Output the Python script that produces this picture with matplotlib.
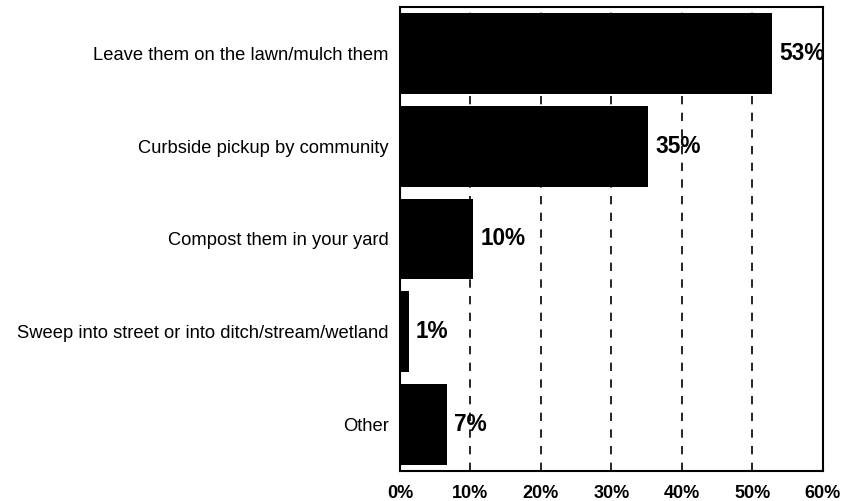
import matplotlib
matplotlib.use("Agg")
import matplotlib.pyplot as plt

# Daten
categories = [
    "Leave them on the lawn/mulch them",
    "Curbside pickup by community",
    "Compost them in your yard",
    "Sweep into street or into ditch/stream/wetland",
    "Other",
]
values = [52.8, 35.2, 10.4, 1.3, 6.7]
value_labels = ["53%", "35%", "10%", "1%", "7%"]
ticks = [0, 10, 20, 30, 40, 50, 60]
tick_labels = ["0%", "10%", "20%", "30%", "40%", "50%", "60%"]

plt.rcParams["font.family"] = ["Liberation Sans", "DejaVu Sans"]

fig = plt.figure(figsize=(8.42, 5.01), dpi=100)
ax = fig.add_axes([0.475, 0.06, 0.5024, 0.926])

y = list(range(len(categories)))
ax.barh(y, values, height=0.87, color="black", zorder=3)

for yi, v, lab in zip(y, values, value_labels):
    ax.annotate(lab, (v, yi), xytext=(5, 0), textcoords="offset points",
                va="center", ha="left", fontsize=16.3, fontweight="bold", zorder=4)

ax.set_xlim(0, 60)
ax.set_ylim(len(categories) - 0.5, -0.5)
ax.set_xticks(ticks)
ax.set_xticklabels(tick_labels, fontsize=13, fontweight="bold")
ax.set_yticks(y)
ax.set_yticklabels(categories, fontsize=13.2)
ax.tick_params(axis="both", length=0)
ax.tick_params(axis="y", pad=8)
ax.tick_params(axis="x", pad=10)

for t in ticks[1:-1]:
    ax.axvline(t, color="black", linestyle=(0, (5, 5)), linewidth=1.2, zorder=1)

for s in ax.spines.values():
    s.set_linewidth(1.5)

fig.savefig("out.png", dpi=100)
